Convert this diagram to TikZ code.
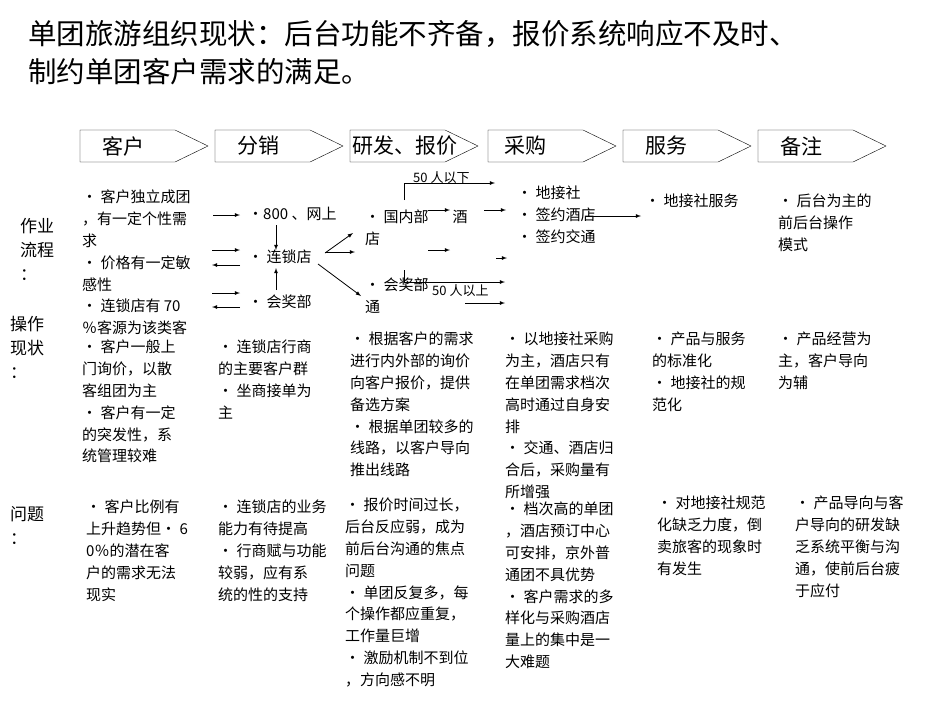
\documentclass[tikz,border=0pt]{standalone}
\usepackage{fontspec}
\setmainfont{Noto Sans CJK SC}
\begin{document}
\begin{tikzpicture}
[   x=1pt,y=-1pt,
    txt/.style={anchor=north west,align=left,inner sep=0pt,font=\fontsize{15}{21.8}\selectfont},
    arr/.style={-latex,thick},
]
\useasboundingbox (0,0) rectangle (950,713);
%%%%%%%%%%%%%%%%%%%% TITLE %%%%%%%%%%%%%%%%%%%%%%%%%%%%%%%%%%%
    \node[anchor=north west,align=left,inner sep=0pt,font=\fontsize{28.5}{38}\selectfont] (title) at (28,20)
        {单团旅游组织现状：后台功能不齐备，报价系统响应不及时、\\制约单团客户需求的满足。};

%%%%%%%%%%%%%%%%%%%% HEADER CHEVRONS %%%%%%%%%%%%%%%%%%%%%%%%%%%%%%%%%%%
    \foreach \x/\o/\t in {80/22/客户,215/22/分销,350/2/研发、报价,488/16/采购,623/22/服务,758/22/备注}
    {
        \draw (\x,130) -- (\x+95,130) -- (\x+128,146) -- (\x+95,162) -- (\x,162) -- cycle;
        \node[anchor=west,inner sep=0pt,font=\fontsize{21}{24}\selectfont] (h\x) at (\x+\o,146) {\t};
    }

%%%%%%%%%%%%%%%%%%%% ROW LABELS %%%%%%%%%%%%%%%%%%%%%%%%%%%%%%%%%%%
    \node[txt,font=\fontsize{17}{24}\selectfont] (lflow) at (20,218) {作业\\流程\\：};
    \node[txt,font=\fontsize{17}{24}\selectfont] (lops) at (10,316) {操作\\现状\\：};
    \node[txt,font=\fontsize{17}{24}\selectfont] (lprob) at (10,506) {问题\\：};

%%%%%%%%%%%%%%%%%%%% FLOW ROW %%%%%%%%%%%%%%%%%%%%%%%%%%%%%%%%%%%
    \node[txt] (f1) at (82,190) {• 客户独立成团\\，有一定个性需\\求\\• 价格有一定敏\\感性\\• 连锁店有 70\\％客源为该类客};
    \node[txt] (web) at (248,207) {•800 、网上};
    \node[txt] (chain) at (248,250) {• 连锁店};
    \node[txt] (award) at (248,295) {• 会奖部};
    \node[txt] (dom) at (365,210) {• 国内部\hspace{1.6em}酒\\店};
    \node[txt] (awd2) at (365,278) {• 会奖部\\通};
    \node[txt,font=\fontsize{13}{15}\selectfont] (lt50) at (413,171) {50 人以下};
    \node[txt,font=\fontsize{13}{15}\selectfont] (gt50) at (432,284) {50 人以上};
    \node[txt] (buy) at (517,186) {• 地接社\\• 签约酒店\\• 签约交通};
    \node[txt] (serv) at (645,194) {• 地接社服务};
    \node[txt] (note) at (778,194) {• 后台为主的\\前后台操作\\模式};

    \coordinate (a1) at (213,215); \coordinate (b1) at (240,215);
    \coordinate (a2) at (212,250); \coordinate (b2) at (240,250);
    \coordinate (a3) at (240,265); \coordinate (b3) at (212,265);
    \coordinate (a4) at (212,293); \coordinate (b4) at (240,293);
    \coordinate (a5) at (240,307); \coordinate (b5) at (212,307);
    \foreach \k in {1,...,5}
        \draw[arr] (a\k) -- (b\k);
    \draw[arr] (276,225) -- (276,250);
    \draw[arr] (276,290) -- (276,268);
    \draw[arr] (325,253) -- (353,233);
    \draw[arr] (325,252) -- (355,252);
    \draw[arr] (318,264) -- (361,296);
    \draw[arr] (404,200) |- (495,183);
    \draw[arr] (428,210) -- (450,210);
    \draw[arr] (484,210) -- (506,210);
    \draw[arr] (428,250) -- (450,250);
    \draw[arr] (496,258) -- (507,258);
    \draw[arr] (404,270) |- (505,282);
    \draw[arr] (465,303) -- (505,303);
    \draw[arr] (585,216) -- (641,216);

%%%%%%%%%%%%%%%%%%%% OPERATION ROW %%%%%%%%%%%%%%%%%%%%%%%%%%%%%%%%%%%
    \node[txt] (o1) at (82,340) {• 客户一般上\\门询价，以散\\客组团为主\\• 客户有一定\\的突发性，系\\统管理较难};
    \node[txt] (o2) at (218,340) {• 连锁店行商\\的主要客户群\\• 坐商接单为\\主};
    \node[txt] (o3) at (350,332) {• 根据客户的需求\\进行内外部的询价\\向客户报价，提供\\备选方案\\• 根据单团较多的\\线路，以客户导向\\推出线路};
    \node[txt] (o4) at (505,332) {• 以地接社采购\\为主，酒店只有\\在单团需求档次\\高时通过自身安\\排\\• 交通、酒店归\\合后，采购量有\\所增强};
    \node[txt] (o5) at (652,332) {• 产品与服务\\的标准化\\• 地接社的规\\范化};
    \node[txt] (o6) at (778,332) {• 产品经营为\\主，客户导向\\为辅};

%%%%%%%%%%%%%%%%%%%% PROBLEM ROW %%%%%%%%%%%%%%%%%%%%%%%%%%%%%%%%%%%
    \node[txt] (p1) at (86,500) {• 客户比例有\\上升趋势但• 6\\0％的潜在客\\户的需求无法\\现实};
    \node[txt] (p2) at (218,500) {• 连锁店的业务\\能力有待提高\\• 行商赋与功能\\较弱，应有系\\统的性的支持};
    \node[txt] (p3) at (345,498) {• 报价时间过长，\\后台反应弱，成为\\前后台沟通的焦点\\问题\\• 单团反复多，每\\个操作都应重复，\\工作量巨增\\• 激励机制不到位\\，方向感不明};
    \node[txt] (p4) at (505,502) {• 档次高的单团\\，酒店预订中心\\可安排，京外普\\通团不具优势\\• 客户需求的多\\样化与采购酒店\\量上的集中是一\\大难题};
    \node[txt] (p5) at (657,496) {• 对地接社规范\\化缺乏力度，倒\\卖旅客的现象时\\有发生};
    \node[txt] (p6) at (795,496) {• 产品导向与客\\户导向的研发缺\\乏系统平衡与沟\\通，使前后台疲\\于应付};
\end{tikzpicture}
\end{document}
